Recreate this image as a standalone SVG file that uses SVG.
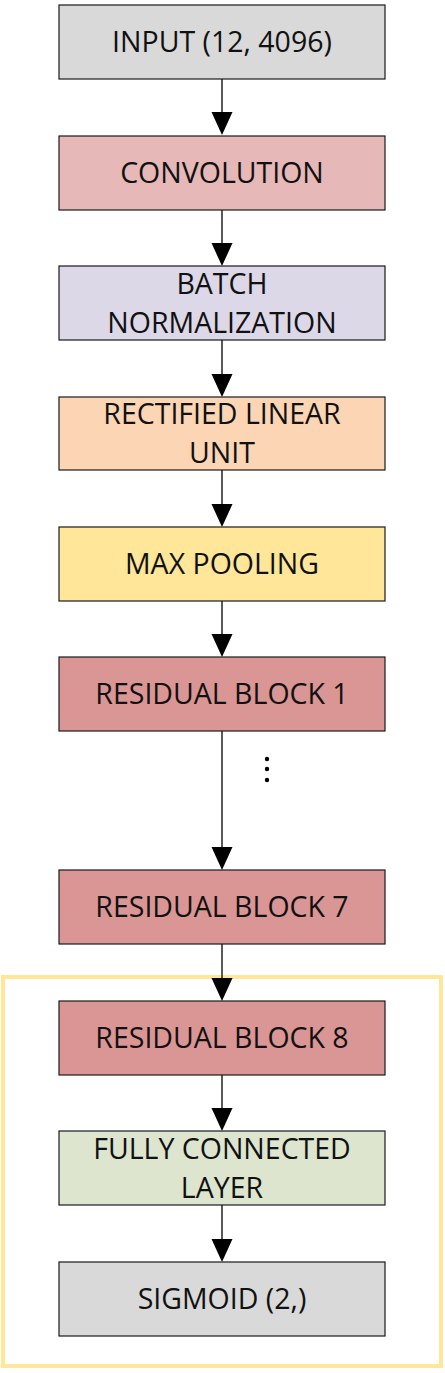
<svg xmlns="http://www.w3.org/2000/svg" width="445" height="1373" viewBox="0 0 445 1373">
<style>
.box{stroke:#1a1a1a;stroke-width:1.2}
.t{font-family:"Open Sans","Liberation Sans",sans-serif;font-size:28.5px;fill:#111;text-anchor:middle}
.c{stroke:#000;stroke-width:1.3;fill:none}
</style>
<rect x="3" y="977" width="438" height="389" fill="none" stroke="#FFE699" stroke-width="4"/>
<g id="connectors">
<line class="c" x1="222" y1="79" x2="222" y2="112"/><path d="M211.5,112 L232.5,112 L222,135 Z"/>
<line class="c" x1="222" y1="210" x2="222" y2="243"/><path d="M211.5,243 L232.5,243 L222,266 Z"/>
<line class="c" x1="222" y1="340" x2="222" y2="374"/><path d="M211.5,374 L232.5,374 L222,397 Z"/>
<line class="c" x1="222" y1="470" x2="222" y2="504"/><path d="M211.5,504 L232.5,504 L222,527 Z"/>
<line class="c" x1="222" y1="601" x2="222" y2="634"/><path d="M211.5,634 L232.5,634 L222,657 Z"/>
<line class="c" x1="222" y1="731" x2="222" y2="847"/><path d="M211.5,847 L232.5,847 L222,870 Z"/>
<line class="c" x1="222" y1="944" x2="222" y2="978"/><path d="M211.5,978 L232.5,978 L222,1001 Z"/>
<line class="c" x1="222" y1="1075" x2="222" y2="1108"/><path d="M211.5,1108 L232.5,1108 L222,1131 Z"/>
<line class="c" x1="222" y1="1205" x2="222" y2="1239"/><path d="M211.5,1239 L232.5,1239 L222,1262 Z"/>
</g>
<g id="dots" fill="#000">
<circle cx="267" cy="759" r="2.2"/><circle cx="267" cy="769" r="2.2"/><circle cx="267" cy="780" r="2.2"/>
</g>
<g id="input"><rect class="box" x="59" y="5" width="326" height="74" fill="#D9D9D9"/><text class="t" x="222" y="52">INPUT (12, 4096)</text></g>
<g id="conv"><rect class="box" x="59" y="136" width="326" height="74" fill="#E6B8B7"/><text class="t" x="222" y="183">CONVOLUTION</text></g>
<g id="bn"><rect class="box" x="59" y="266" width="326" height="74" fill="#DCD8E8"/><text class="t" x="222" y="294">BATCH</text><text class="t" x="222" y="333">NORMALIZATION</text></g>
<g id="relu"><rect class="box" x="59" y="397" width="326" height="73" fill="#FCD5B5"/><text class="t" x="222" y="424">RECTIFIED LINEAR</text><text class="t" x="222" y="463">UNIT</text></g>
<g id="maxpool"><rect class="box" x="59" y="527" width="326" height="74" fill="#FFE699"/><text class="t" x="222" y="574">MAX POOLING</text></g>
<g id="res1"><rect class="box" x="59" y="657" width="326" height="74" fill="#DA9694"/><text class="t" x="222" y="704">RESIDUAL BLOCK 1</text></g>
<g id="res7"><rect class="box" x="59" y="870" width="326" height="74" fill="#DA9694"/><text class="t" x="222" y="917">RESIDUAL BLOCK 7</text></g>
<g id="res8"><rect class="box" x="59" y="1001" width="326" height="74" fill="#DA9694"/><text class="t" x="222" y="1048">RESIDUAL BLOCK 8</text></g>
<g id="fc"><rect class="box" x="59" y="1131" width="326" height="74" fill="#DDE5CF"/><text class="t" x="222" y="1159">FULLY CONNECTED</text><text class="t" x="222" y="1198">LAYER</text></g>
<g id="sigmoid"><rect class="box" x="59" y="1262" width="326" height="74" fill="#D9D9D9"/><text class="t" x="222" y="1309">SIGMOID (2,)</text></g>
</svg>
